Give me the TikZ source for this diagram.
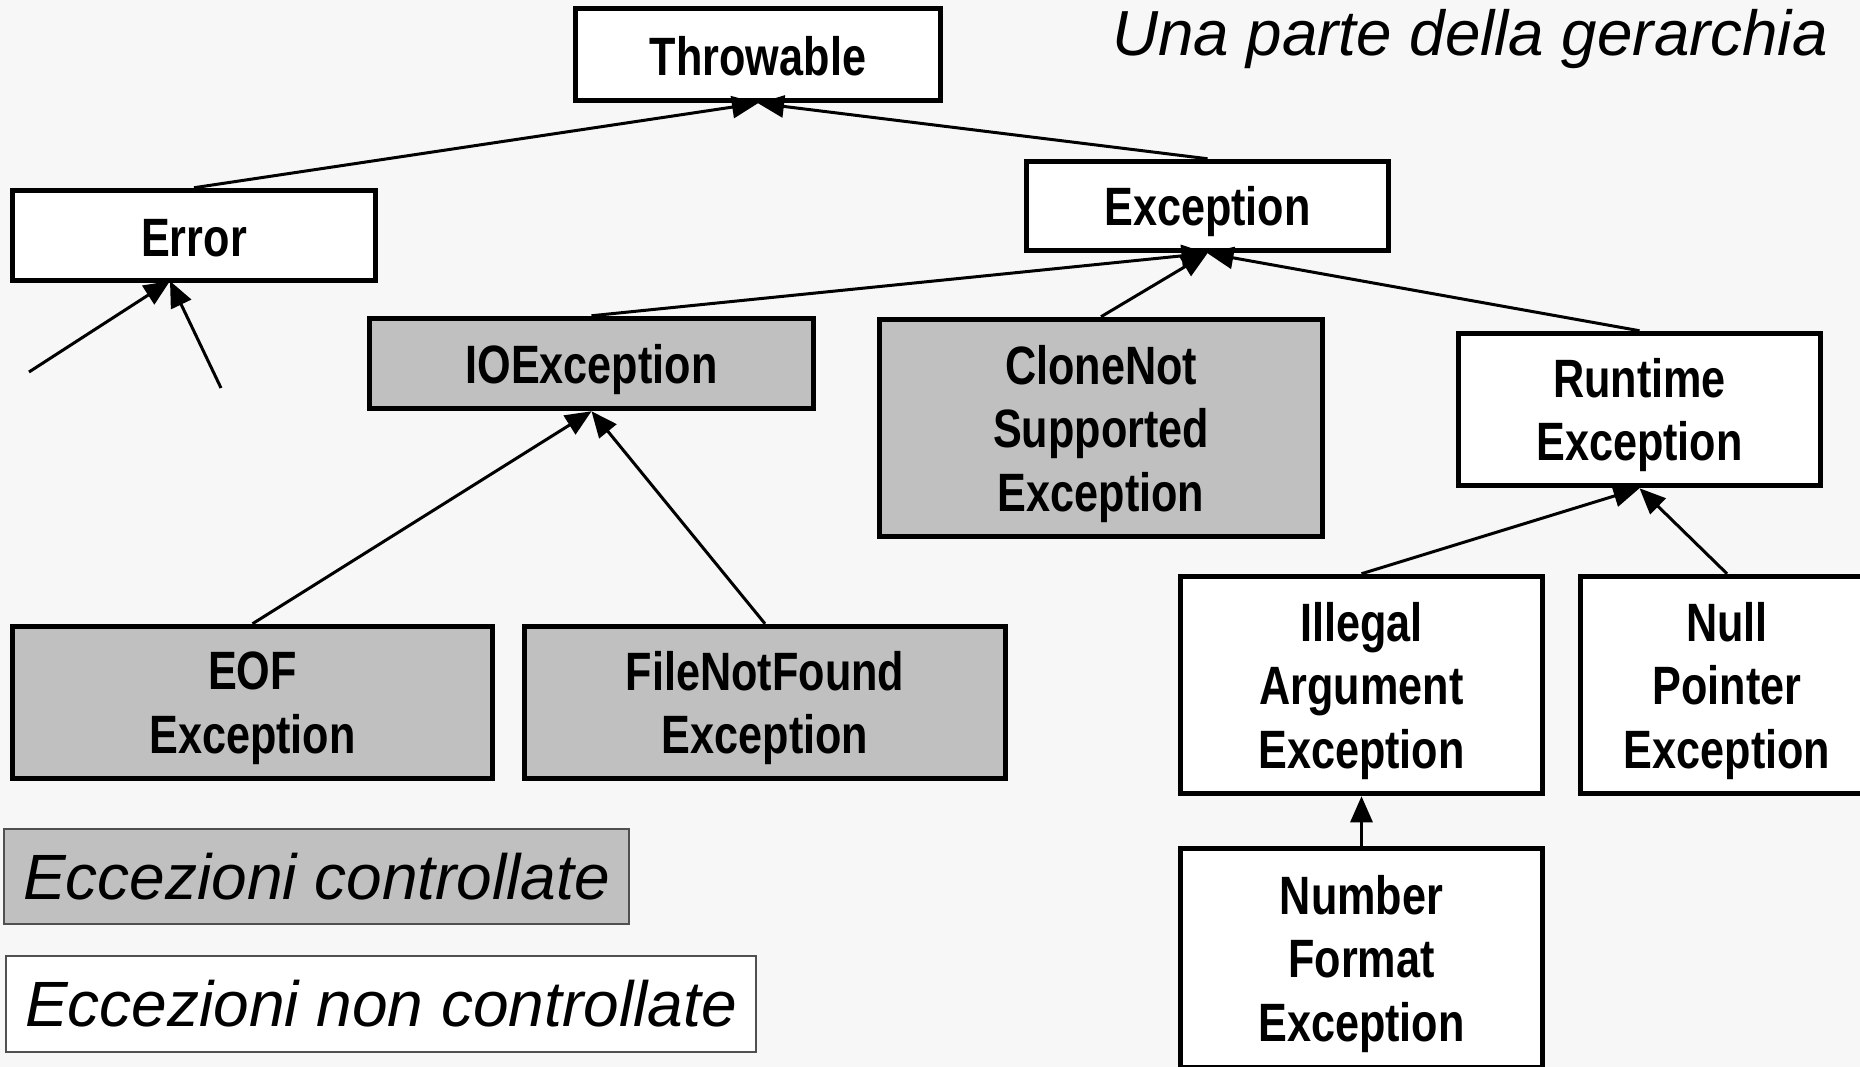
\documentclass[tikz,border=0pt]{standalone}
\usepackage{fontspec}
\usetikzlibrary{arrows.meta}
\newfontfamily\boxfont{Liberation Sans}[FakeStretch=0.80]
\newfontfamily\legfont{Liberation Sans}
\definecolor{bgcol}{HTML}{F7F7F7}
\definecolor{checked}{HTML}{C0C0C0}
\definecolor{legedge}{HTML}{505050}
% last text line of a box: no descender depth, so the caps sit centred
\newcommand\lastrow[1]{\rule{0pt}{39pt}\smash{#1}}
% single short line, set a touch lower in its box
\newcommand\lowrow[1]{\rule{0pt}{43pt}\smash{#1}}

\begin{document}
\begin{tikzpicture}[x=1pt,y=-1pt,
  cls/.style={draw=black, fill=white, line width=5.5pt, inner sep=0pt, align=center,
    font={\boxfont\bfseries\fontsize{54}{63.5}\selectfont}},
  chk/.style={cls, fill=checked},
  sz/.style 2 args={minimum width=#1, minimum height=#2},
  inh/.style={line width=3pt, -{Triangle[length=26pt,width=22pt]}},
  legend/.style={draw=legedge, line width=1.5pt, inner sep=0pt,
    font={\legfont\itshape\fontsize{64}{70}\selectfont}}
]
\useasboundingbox (0,0) rectangle (1860,1067);
\clip (0,0) rectangle (1860,1067);
\fill[bgcol] (0,0) rectangle (1860,1067);

% class hierarchy
\node[cls, sz={365pt}{92pt}] (thr) at (758,54.5) {\lowrow{Throwable}};
\node[cls, sz={363pt}{90pt}] (err) at (194,235.5) {\lowrow{Error}};
\node[cls, sz={362pt}{89pt}] (exc) at (1207.5,206) {\lastrow{Exception}};
\node[chk, sz={444pt}{90pt}] (ioe) at (591.5,363.5) {\lastrow{IOException}};
\node[chk, sz={443pt}{217pt}] (cns) at (1101,428) {CloneNot\\Supported\\\lastrow{Exception}};
\node[cls, sz={362pt}{152pt}] (rte) at (1639.5,409.5) {Runtime\\\lastrow{Exception}};
\node[chk, sz={480pt}{152pt}] (eof) at (252.5,702.5) {EOF\\\lastrow{Exception}};
\node[chk, sz={481pt}{152pt}] (fnf) at (765,702.5) {FileNotFound\\\lastrow{Exception}};
\node[cls, sz={362pt}{217pt}] (iae) at (1361.5,685) {Illegal\\Argument\\\lastrow{Exception}};
\node[cls, sz={293pt}{217pt}] (npe) at (1727,685) {Null\\Pointer\\\lastrow{Exception}};
\node[cls, sz={362pt}{219pt}] (nfe) at (1361.5,958) {Number\\Format\\\lastrow{Exception}};

% inheritance links
\draw[inh] (err.north) -- (thr.south);
\draw[inh] (exc.north) -- (thr.south);
\draw[inh] (ioe.north) -- (exc.south);
\draw[inh] (cns.north) -- (exc.south);
\draw[inh] (rte.north) -- (exc.south);
\draw[inh] (eof.north) -- (ioe.south);
\draw[inh] (fnf.north) -- (ioe.south);
\draw[inh] (iae.north) -- (rte.south);
\draw[inh] (npe.north) -- (rte.south);
\draw[inh] (nfe.north) -- (iae.south);

% subclasses of Error that are not shown
\coordinate (errin) at (170,281);
\coordinate (errsubA) at (29,372);
\coordinate (errsubB) at (221,388);
\draw[inh] (errsubA) -- (errin);
\draw[inh] (errsubB) -- (errin);

% legend and title
\node[legend, fill=checked, sz={625pt}{95pt}] (legchk) at (316.5,876.5) {Eccezioni controllate};
\node[legend, fill=white, sz={750pt}{96pt}] (legunchk) at (381,1004) {Eccezioni non controllate};
\node[anchor=base, inner sep=0pt, font={\legfont\itshape\fontsize{63.7}{70}\selectfont}] (title) at (1470,56) {Una parte della gerarchia};
\end{tikzpicture}
\end{document}
